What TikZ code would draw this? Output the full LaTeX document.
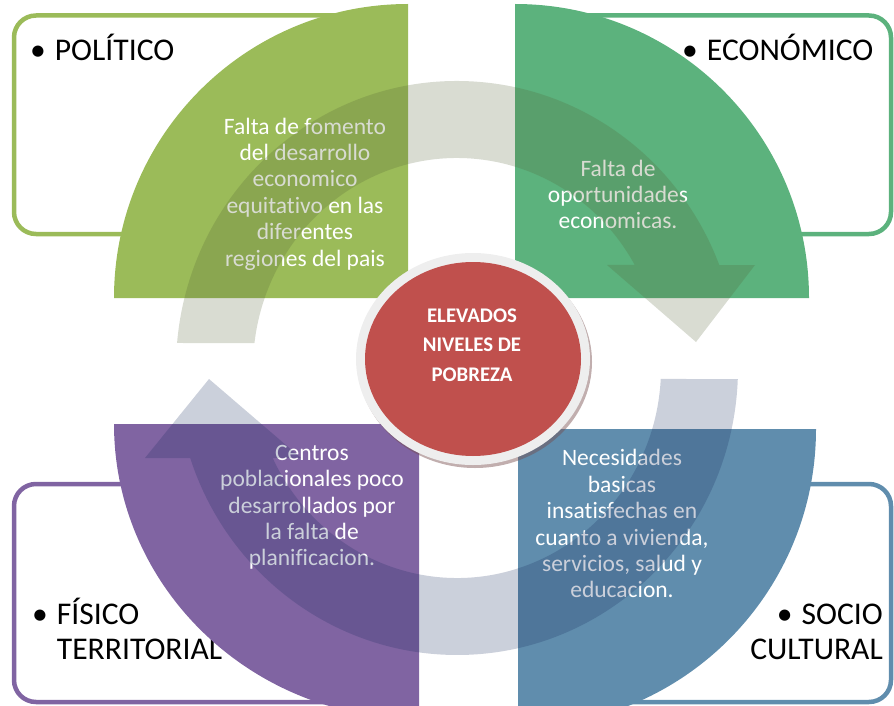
\documentclass[tikz,border=0pt]{standalone}
\usepackage{fontspec}
\setmainfont{Carlito}[Ligatures=NoCommon]
\usetikzlibrary{calc}
\definecolor{polgreen}{RGB}{155,187,89}
\definecolor{ecogreen}{RGB}{92,178,125}
\definecolor{purp}{RGB}{128,100,162}
\definecolor{blu}{RGB}{96,141,173}
\definecolor{redc}{RGB}{192,80,77}
\definecolor{ringgray}{RGB}{238,238,238}
\definecolor{grayarrow}{RGB}{80,95,50}
\definecolor{bluearrow}{RGB}{20,40,90}
\begin{document}
\begin{tikzpicture}[x=1pt,y=-1pt,
  boxline/.style={line width=4.5pt, rounded corners=22pt},
  quadtext/.style={text=white, align=center, font=\fontsize{23.5}{26.4}\selectfont, inner sep=0pt, anchor=north},
  titletext/.style={font=\fontsize{31.6}{35}\selectfont, inner sep=0pt, text=black},
  arrowfill/.style={opacity=0.22}]
\useasboundingbox (0,0) rectangle (894,706);
\clip (0,0) rectangle (894,706);
\coordinate (hub) at (457,368);

% outline boxes
\draw[boxline, polgreen] (14,15.5) rectangle (400,234);
\draw[boxline, ecogreen] (525,15.5) rectangle (891,234);
\draw[boxline, purp] (14,484) rectangle (410,702);
\draw[boxline, blu] (525,484) rectangle (891,702);

% titles
\node[titletext, anchor=base west] (poltitle) at (30,61) {\textbullet\hspace{9pt}POLÍTICO};
\node[titletext, anchor=base west] (ecotitle) at (682,61) {\textbullet\hspace{9pt}ECONÓMICO};
\node[titletext, anchor=base west] (fistitle) at (32,624) {\begin{tabular}[t]{@{}l@{}l@{}}\textbullet\hspace{9pt} & FÍSICO\\ & TERRITORIAL\end{tabular}};
\node[titletext, anchor=base east] (soctitle) at (883,624) {\begin{tabular}[t]{@{}r@{}}\textbullet\hspace{9pt}SOCIO\\CULTURAL\end{tabular}};

% quadrants
\fill[polgreen] (408,298) -- (114,298) arc[start angle=180, end angle=270, radius=294] -- cycle;
\fill[ecogreen] (515,298) -- (515,4) arc[start angle=270, end angle=360, radius=294] -- cycle;
\fill[purp] (419,424) -- (114,424) arc[start angle=180, end angle=90, x radius=305, y radius=295] -- cycle;
\fill[blu] (518,429) -- (816,429) arc[start angle=0, end angle=90, radius=298] -- cycle;

% quadrant texts
\node[quadtext] (poltext) at (305,117.5) {Falta de fomento\\del desarrollo\\economico\\equitativo en las\\diferentes\\regiones del pais};
\node[quadtext] (ecotext) at (618,159.5) {Falta de\\oportunidades\\economicas.};
\node[quadtext] (fistext) at (312,444.8) {Centros\\poblacionales poco\\desarrollados por\\la falta de\\planificacion.};
\node[quadtext] (soctext) at (622,449.4) {Necesidades\\basicas\\insatisfechas en\\cuanto a vivienda,\\servicios, salud y\\educacion.};

% cycle arrows
\fill[grayarrow, arrowfill] ($(hub)+(185:281 and 287)$) arc[start angle=185, end angle=339, x radius=281, y radius=287]
  -- (755,265) -- (696,342) -- (607,265)
  -- ($(hub)+(330.6:204 and 210)$) arc[start angle=330.6, end angle=186.8, x radius=204, y radius=210] -- cycle;
\fill[bluearrow, arrowfill] ($(hub)+(2.2:281 and 287)$) arc[start angle=2.2, end angle=161.7, x radius=281, y radius=287]
  -- (145,458) -- (209,379) -- (301,458)
  -- ($(hub)+(154.6:204 and 210)$) arc[start angle=154.6, end angle=3.0, x radius=204, y radius=210] -- cycle;

% centre
\fill[black!60!red!40!gray, opacity=0.45] (475,362) ellipse[x radius=117, y radius=106];
\fill[ringgray] (473,359) ellipse[x radius=117, y radius=106];
\fill[redc] (473,359) ellipse[x radius=108, y radius=97];
\node[text=white, align=center, font=\bfseries\fontsize{20.8}{29.5}\selectfont, inner sep=0pt] (core) at (472,345) {ELEVADOS\\NIVELES DE\\POBREZA};
\end{tikzpicture}
\end{document}
